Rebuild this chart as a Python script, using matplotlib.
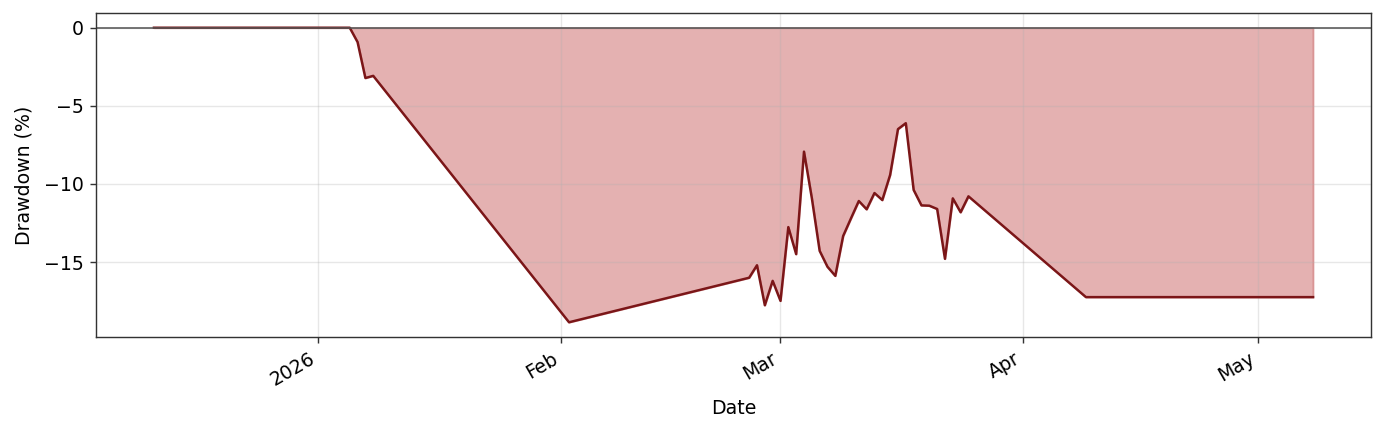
import matplotlib
matplotlib.use("Agg")
import matplotlib.pyplot as plt
import matplotlib.dates as mdates
from matplotlib.ticker import MultipleLocator
import pandas as pd

# drawdown series (gaps in the data are bridged by straight lines)
dates = [
    "2025-12-11", "2026-01-05", "2026-01-06", "2026-01-07", "2026-01-08",
    "2026-02-02", "2026-02-25", "2026-02-26", "2026-02-27", "2026-02-28",
    "2026-03-01", "2026-03-02", "2026-03-03", "2026-03-04", "2026-03-05",
    "2026-03-06", "2026-03-07", "2026-03-08", "2026-03-09", "2026-03-10",
    "2026-03-11", "2026-03-12", "2026-03-13", "2026-03-14", "2026-03-15",
    "2026-03-16", "2026-03-17", "2026-03-18", "2026-03-19", "2026-03-20",
    "2026-03-21", "2026-03-22", "2026-03-23", "2026-03-24", "2026-03-25",
    "2026-04-09", "2026-05-08",
]
drawdown = [
    0.0, 0.0, -0.92, -3.22, -3.08,
    -18.85, -16.0, -15.2, -17.76, -16.2,
    -17.48, -12.76, -14.49, -7.93, -10.9,
    -14.28, -15.3, -15.88, -13.33, -12.2,
    -11.09, -11.62, -10.58, -11.03, -9.42,
    -6.49, -6.11, -10.38, -11.37, -11.39,
    -11.6, -14.79, -10.92, -11.81, -10.79,
    -17.24, -17.24,
]

LINE_COLOR = "#7b1618"
FILL_COLOR = "#b22222"
DPI = 127

plt.rcParams["font.size"] = 10.7

df = pd.DataFrame({"date": pd.to_datetime(dates), "drawdown": drawdown})

fig = plt.figure(figsize=(1385 / DPI, 433 / DPI), dpi=DPI)
ax = fig.add_axes([0.0693, 0.2217, 0.9206, 0.7483])

ax.fill_between(df["date"], df["drawdown"], 0, color=FILL_COLOR, alpha=0.35)
ax.plot(df["date"], df["drawdown"], color=LINE_COLOR, linewidth=1.4)
ax.axhline(0, color="#555555", linewidth=0.9)

locator = mdates.AutoDateLocator()
ax.xaxis.set_major_locator(locator)
ax.xaxis.set_major_formatter(mdates.ConciseDateFormatter(locator))
ax.yaxis.set_major_locator(MultipleLocator(5))

ax.set_xlabel("Date", labelpad=5)
ax.set_ylabel("Drawdown (%)", labelpad=6)
ax.grid(True, alpha=0.3)
for spine in ax.spines.values():
    spine.set_color("#333333")
ax.tick_params(colors="#333333", labelcolor="black")

for lbl in ax.get_xticklabels():
    lbl.set_rotation(30)
    lbl.set_ha("right")

fig.savefig("out.png", dpi=DPI)
